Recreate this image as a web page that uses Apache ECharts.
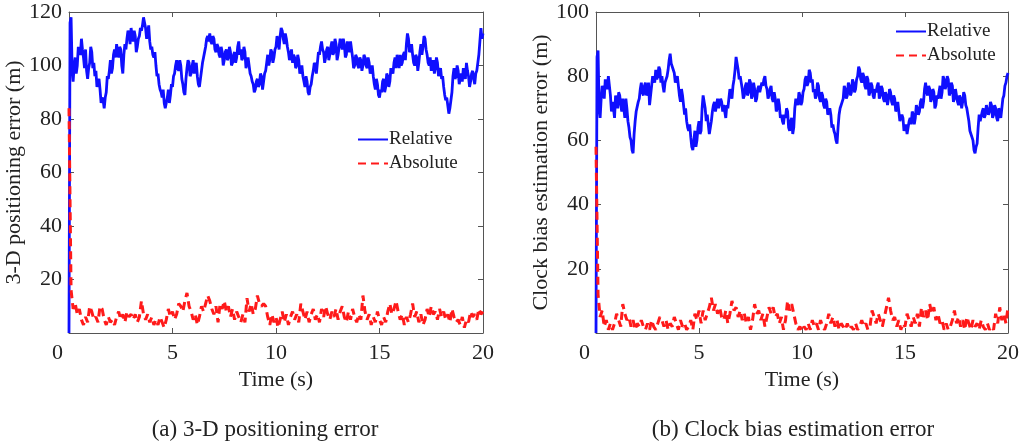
<!DOCTYPE html>
<html><head><meta charset="utf-8">
<script src="https://cdn.jsdelivr.net/npm/echarts@6/dist/echarts.min.js"></script>
<style>html,body{margin:0;padding:0;background:#fff}#c{width:1022px;height:446px}</style>
</head><body><div id="c"></div>
<script>
// sampling steps (s)
var relStep = 0.05;
var absStep = 0.1;
var xTicks = [0, 5, 10, 15, 20];
var seriesNames = ['Relative', 'Absolute'];
var captionA = '(a) 3-D positioning error';
var captionB = '(b) Clock bias estimation error';
var yNameA = '3-D positioning error (m)';
var yNameB = 'Clock bias estimation error (m)';
var xName = 'Time (s)';

// (a) 3-D positioning error, relative (blue), every 0.05 s
var relA = [0,116,118,99,94,100,103,97,100,107,105,104,110,106,103,99,106,98,95,99,101,107,105,99,101,96,98,92,94,95,91,86,88,87,84,88,90,96,95,98,
102,97,99,104,106,103,108,105,103,107,106,100,97,104,108,106,110,113,112,108,114,111,109,113,111,105,107,110,111,114,113,115,118,116,114,110,112,115,109,106,
107,104,103,105,100,96,97,93,91,90,88,91,86,84,84,88,91,86,89,93,92,96,97,100,102,99,98,102,100,95,93,90,89,95,99,102,101,96,97,100,
102,97,99,101,96,93,92,95,98,101,103,105,107,110,111,109,112,109,108,111,110,106,105,108,107,104,103,107,105,100,102,105,106,102,103,107,105,100,101,104,
105,101,103,107,109,104,106,102,103,107,105,99,101,103,100,97,96,94,93,90,91,94,95,92,93,97,96,91,94,97,98,101,104,100,102,106,105,101,103,106,
107,111,109,106,111,114,113,110,108,112,110,107,105,102,104,106,101,104,103,99,100,104,102,97,98,100,96,94,92,96,94,90,89,92,93,96,98,101,100,97,
101,105,104,107,109,106,105,101,103,106,107,102,104,107,109,104,105,110,108,102,104,107,110,108,106,110,108,103,104,109,107,105,109,106,103,99,100,104,103,100,
99,103,102,98,100,104,103,100,99,103,101,97,98,100,96,93,91,95,93,89,88,91,90,94,95,90,92,97,96,92,94,99,98,97,101,103,99,104,102,99,
104,100,101,104,105,102,108,112,110,105,106,108,104,101,100,104,103,98,101,105,108,104,107,111,110,106,104,101,100,103,98,100,102,97,99,103,101,96,98,99,
95,96,92,89,87,88,85,82,84,87,90,96,99,95,96,100,98,93,95,97,94,99,97,95,101,98,96,92,94,97,98,95,93,97,98,101,104,109,114,110,
112];
// (a) absolute (red dashed), every 0.1 s
var absA = [84,16,9,11,7,9,5,3,6,4,10,8,5,6,4,10,9,5,3,6,
4,5,3,6,8,5,7,4,8,6,7,5,7,4,6,12,7,5,7,4,
6,3,5,3,6,4,2,5,9,6,8,5,7,11,10,8,12,15,10,8,
5,7,3,6,10,8,11,14,12,9,7,10,4,11,9,12,8,10,6,9,
5,8,6,4,7,4,13,8,11,7,9,14,11,10,11,10,6,3,7,4,
6,2,5,8,4,7,3,6,8,5,7,4,11,8,5,8,4,7,9,5,
7,4,9,6,10,7,5,8,6,9,5,8,10,6,4,8,5,9,6,4,
7,5,14,8,5,7,3,6,4,8,5,3,6,4,8,11,7,9,12,8,
5,7,3,6,4,7,11,6,8,4,7,3,5,9,6,10,7,8,5,9,
6,8,5,7,4,9,6,4,5,3,6,2,5,4,8,6,7,5,9,7,8];
// (b) clock bias estimation error, relative (blue), every 0.05 s
var relB = [0,86,88,70,67,73,77,76,73,79,77,76,80,77,74,69,72,70,67,74,72,70,75,74,71,69,73,70,67,73,70,66,64,61,60,57,56,62,66,69,
69,72,73,76,78,75,74,77,78,74,75,78,71,74,77,80,79,78,82,79,80,83,82,78,80,77,75,78,79,80,82,85,87,84,84,82,81,78,79,80,
77,74,72,76,74,71,68,70,66,64,63,65,61,58,57,60,63,58,60,64,66,62,63,70,74,72,70,66,68,65,62,64,66,69,71,72,69,71,73,70,
70,73,72,69,71,69,67,71,70,73,76,74,73,77,79,82,86,84,82,79,80,78,76,73,74,77,78,74,75,79,78,73,74,78,76,72,73,76,77,75,
75,78,77,79,80,77,76,73,74,76,77,73,72,75,73,69,70,73,71,67,68,66,65,68,67,70,69,64,63,66,67,62,64,70,73,72,71,75,74,71,
72,75,76,79,80,77,78,82,81,78,79,75,76,73,74,78,77,73,72,75,74,71,70,73,72,68,69,70,68,64,65,63,62,60,59,64,68,70,71,72,
73,77,76,73,74,78,77,74,75,79,78,75,76,79,80,83,82,79,78,81,80,77,76,80,79,74,75,78,77,74,73,76,75,77,78,73,74,77,76,73,
72,75,74,71,73,76,75,72,71,74,73,69,70,72,69,66,66,68,67,63,64,65,62,64,66,67,65,69,68,65,67,71,70,68,69,72,73,70,72,76,
78,75,74,77,76,72,73,76,75,70,71,74,73,75,77,73,75,80,79,76,77,80,79,74,75,78,77,72,73,76,74,72,71,74,73,70,72,75,74,71,
70,68,66,63,62,61,60,57,56,58,59,64,68,66,66,69,70,67,68,71,71,68,69,72,71,67,68,71,70,67,66,70,69,67,70,73,74,77,78,80,
81];
// (b) absolute (red dashed), every 0.1 s
var absB = [58,12,5,7,2,4,1,3,1,3,6,4,2,9,6,4,5,2,4,1,
3,2,4,2,1,3,1,4,2,1,3,5,4,2,4,1,3,2,5,3,
1,4,2,3,1,2,4,1,6,4,7,3,7,4,6,8,11,7,9,6,
8,5,4,7,3,6,10,7,8,5,7,4,6,3,5,1,4,9,6,7,
4,6,2,5,8,6,8,5,6,3,5,1,4,10,7,9,6,3,1,2,
0.5,2,1,3,1,4,2,3,1,4,2,1,3,6,3,5,2,4,1,3,
2,1,3,1,2,1,3,1,2,4,2,3,1,2,7,5,3,6,4,2,
5,8,11,7,4,5,2,4,1,3,2,6,4,2,5,3,6,2,8,5,
7,4,9,6,8,4,6,3,4,1,3,1,2,4,7,3,5,2,4,1,
5,3,1,4,2,3,1,4,2,1,3,1,2,1,6,3,8,4,6,3,8];

function pairs(arr, step){
  return arr.map(function(v,i){ return [Math.round(i*step*100)/100, v]; });
}

var FONT = "'Liberation Serif','Times New Roman',serif";
var TXT = '#222';
var AX = '#555';
var BLUE = '#0f0fff';
var RED = '#ff1a1a';

function xAxes(gi){
  return [{
    type:'value', gridIndex:gi, min:0, max:20, interval:5, name:xName,
    nameLocation:'middle', nameGap:36,
    nameTextStyle:{fontFamily:FONT, fontSize:22, color:TXT},
    axisLine:{show:true, onZero:false, lineStyle:{color:AX, width:1}},
    axisTick:{show:true, inside:true, length:5, lineStyle:{color:AX}},
    splitLine:{show:false},
    axisLabel:{fontFamily:FONT, fontSize:22, color:TXT, margin:9,
      formatter:function(v){ return v===0 ? '{z|0}' : String(v); },
      rich:{z:{fontFamily:FONT, fontSize:22, color:TXT, padding:[0,23,0,0]}}}
  },{
    type:'value', gridIndex:gi, position:'top', min:0, max:20, interval:5,
    axisLine:{show:true, onZero:false, lineStyle:{color:AX, width:1}},
    axisTick:{show:true, inside:true, length:5, lineStyle:{color:AX}},
    axisLabel:{show:false}, splitLine:{show:false}
  }];
}
function yAxes(gi, max, name){
  return [{
    type:'value', gridIndex:gi, min:0, max:max, interval:20, name:name,
    nameLocation:'middle', nameGap:39, nameRotate:90,
    nameTextStyle:{fontFamily:FONT, fontSize:22, color:TXT},
    axisLine:{show:true, onZero:false, lineStyle:{color:AX, width:1}},
    axisTick:{show:true, inside:true, length:5, lineStyle:{color:AX}},
    splitLine:{show:false},
    axisLabel:{fontFamily:FONT, fontSize:22, color:TXT, margin:7,
      formatter:function(v){ return v===0 ? '' : String(v); }}
  },{
    type:'value', gridIndex:gi, position:'right', min:0, max:max, interval:20,
    axisLine:{show:true, onZero:false, lineStyle:{color:AX, width:1}},
    axisTick:{show:true, inside:true, length:5, lineStyle:{color:AX}},
    axisLabel:{show:false}, splitLine:{show:false}
  }];
}
function lineSeries(name, gi, data, step, color, dashed){
  return {
    type:'line', name:name, xAxisIndex:gi*2, yAxisIndex:gi*2, data:pairs(data, step),
    showSymbol:false, symbol:'none', animation:false,
    lineStyle:{color:color, width:dashed?3:2.8, type:dashed?[8,5]:'solid'},
    itemStyle:{color:color}
  };
}
function legend(left, top){
  return {
    data:seriesNames, orient:'vertical', left:left, top:top, padding:0,
    itemWidth:30, itemHeight:12, itemGap:5,
    itemStyle:{opacity:0},
    textStyle:{fontFamily:FONT, fontSize:19, color:TXT, padding:[0,0,0,-4]}
  };
}

var chart = echarts.init(document.getElementById('c'), null, {renderer:'canvas'});
chart.setOption({
  backgroundColor:'#fff',
  animation:false,
  grid:[
    {left:69, right:539, top:12, bottom:113, containLabel:false},
    {left:596, right:14, top:12, bottom:113, containLabel:false}
  ],
  xAxis: xAxes(0).concat(xAxes(1)),
  yAxis: yAxes(0, 120, yNameA).concat(yAxes(1, 100, yNameB)),
  legend:[legend(357, 130), legend(895, 22)],
  series:[
    lineSeries(seriesNames[0], 0, relA, relStep, BLUE, false),
    lineSeries(seriesNames[1], 0, absA, absStep, RED, true),
    lineSeries(seriesNames[0], 1, relB, relStep, BLUE, false),
    lineSeries(seriesNames[1], 1, absB, absStep, RED, true)
  ],
  graphic:[
    {type:'text', x:265, y:430, style:{text:captionA, fontFamily:FONT, fontSize:23, fill:TXT, align:'center', verticalAlign:'middle'}},
    {type:'text', x:793, y:430, style:{text:captionB, fontFamily:FONT, fontSize:23, fill:TXT, align:'center', verticalAlign:'middle'}}
  ]
});
</script></body></html>
